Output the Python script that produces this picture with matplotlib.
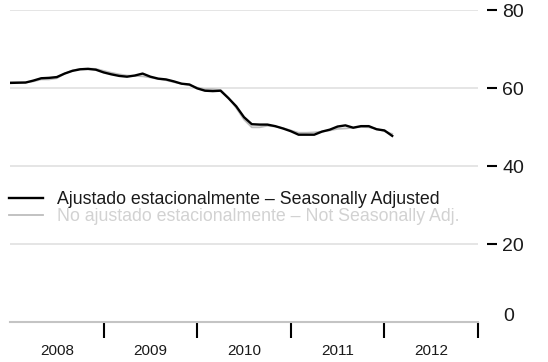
"""Monthly index, seasonally adjusted vs. not adjusted, 2008-2012."""

import numpy as np
import matplotlib
matplotlib.use("Agg")
from matplotlib import pyplot as plt
from matplotlib.ticker import FixedLocator, NullFormatter

plt.rcParams["font.family"] = ["Liberation Sans", "DejaVu Sans"]

# --- Data (monthly, starting Jan 2008) ---
START_YEAR = 2008
seasonally_adjusted = [
    61.4, 61.45, 61.5, 62.0, 62.6, 62.7, 62.9, 63.8, 64.5, 64.9,
    65.0, 64.8, 64.1, 63.6, 63.2, 63.0, 63.3, 63.8, 63.0, 62.5,
    62.3, 61.8, 61.2, 61.0, 60.0, 59.4, 59.3, 59.4, 57.5, 55.4,
    52.6, 50.8, 50.7, 50.7, 50.3, 49.7, 49.0, 48.1, 48.1, 48.1,
    48.9, 49.4, 50.2, 50.5, 49.9, 50.3, 50.3, 49.5, 49.2, 47.8,
]
not_adjusted = [
    61.6, 61.6, 61.5, 61.8, 62.3, 62.3, 62.6, 63.8, 64.6, 65.0,
    65.1, 65.0, 64.5, 64.0, 63.6, 63.3, 63.2, 63.1, 62.8, 62.4,
    62.1, 61.6, 61.2, 60.8, 60.2, 59.8, 59.8, 59.6, 57.6, 55.0,
    52.0, 50.0, 50.0, 50.4, 50.2, 49.8, 49.2, 48.6, 48.6, 48.7,
    48.9, 49.2, 49.6, 49.7, 49.9, 50.1, 50.0, 49.6, 49.0, 48.3,
]
years = [2008, 2009, 2010, 2011, 2012]
y_ticks = [20, 40, 60, 80]
label_sa = "Ajustado estacionalmente \u2013 Seasonally Adjusted"
label_nsa = "No ajustado estacionalmente \u2013 Not Seasonally Adj."

GRAY_LINE = "#bdbdbd"
GRID = "#e3e3e3"
LEGEND_GRAY = "#d2d2d2"
TEXT = "#1a1a1a"

x = START_YEAR + np.arange(len(seasonally_adjusted)) / 12

fig = plt.figure(figsize=(5.48, 3.62), dpi=100)
ax = fig.add_axes([10 / 548, 40 / 362, 468 / 548, 311.5 / 362])

for v in y_ticks:
    ax.axhline(v, color=GRID, linewidth=1.3, zorder=0)

ax.plot(x, not_adjusted, color=GRAY_LINE, linewidth=1.3, label=label_nsa, zorder=2)
ax.plot(x, seasonally_adjusted, color="black", linewidth=1.7, label=label_sa, zorder=3)

ax.set_xlim(years[0], years[-1] + 1)
ax.set_ylim(0, 80)

# x axis: separators between years, labels centred in each year
ax.xaxis.set_major_locator(FixedLocator([y + 1 for y in years]))
ax.xaxis.set_major_formatter(NullFormatter())
ax.xaxis.set_minor_locator(FixedLocator([y + 0.5 for y in years]))
ax.set_xticklabels([str(y) for y in years], minor=True)
ax.tick_params(axis="x", which="major", direction="out", length=11.5, width=1.5, color="black")
ax.tick_params(axis="x", which="minor", length=0, pad=15.5, labelsize=11, labelcolor=TEXT)

# y axis on the right, detached dashes
ax.yaxis.tick_right()
ax.spines["right"].set_position(("outward", 6.8))
ax.set_yticks(y_ticks)
ax.tick_params(axis="y", direction="out", length=7.2, width=1.5, color="black",
               pad=3.6, labelsize=14, labelcolor=TEXT)
ax.annotate("0", xy=(1, 0), xycoords=("axes fraction", "data"),
            xytext=(18.5, -2.5), textcoords="offset points", fontsize=14,
            color=TEXT, ha="left", va="bottom")

for side in ["top", "left", "right"]:
    ax.spines[side].set_visible(False)
ax.spines["bottom"].set_color("#c4c4c4")
ax.spines["bottom"].set_linewidth(1.5)

handles, labels = ax.get_legend_handles_labels()
leg = ax.legend(handles[::-1], labels[::-1], loc="upper left",
                bbox_to_anchor=(-0.002, 0.421), frameon=False, fontsize=12.8,
                handlelength=1.9, handletextpad=0.8, labelspacing=0.0,
                borderaxespad=0, borderpad=0)
for text, col in zip(leg.get_texts(), [TEXT, LEGEND_GRAY]):
    text.set_color(col)

fig.savefig("out.png", dpi=100)
